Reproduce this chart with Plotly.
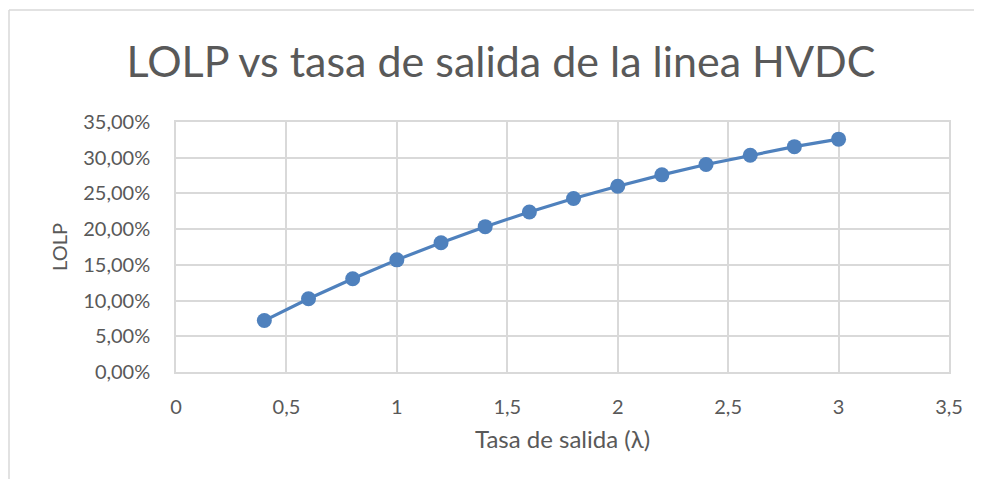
import plotly.graph_objects as go

tasa_salida = [0.4, 0.6, 0.8, 1.0, 1.2, 1.4, 1.6, 1.8, 2.0, 2.2, 2.4, 2.6, 2.8, 3.0]
lolp = [0.0720, 0.1025, 0.1305, 0.1570, 0.1810, 0.2035, 0.2240, 0.2430, 0.2600,
        0.2760, 0.2905, 0.3035, 0.3155, 0.3260]

title_text = "LOLP vs tasa de salida de la linea HVDC"
x_title = "Tasa de salida (λ)"
y_title = "LOLP"

TXT = "#595959"
GRID = "#D9D9D9"
BLUE = "#4F81BD"
FONT = "Lato, 'Open Sans', sans-serif"

fig = go.Figure()
fig.add_trace(go.Scatter(
    x=tasa_salida, y=lolp, mode="lines+markers",
    line=dict(color=BLUE, width=3.2),
    marker=dict(color=BLUE, size=15),
    hoverinfo="x+y",
))

# page body has an 8px margin, so the figure sits at (8, 8) in the window
W, H = 974, 471
L, R, T, B = 168, 33, 114, 107
pw, ph = W - L - R, H - T - B

def px_x(p):
    return (p - L) / pw

def px_y(p):
    return (H - B - p) / ph

fig.update_layout(
    width=W, height=H,
    margin=dict(l=L, r=R, t=T, b=B),
    paper_bgcolor="white", plot_bgcolor="white",
    separators=",.",
    showlegend=False,
    font=dict(family=FONT, color=TXT, size=20),
    title=dict(text=title_text, x=(501 - 8) / W, xref="container", xanchor="center",
               y=1 - 54 / H, yanchor="middle",
               font=dict(size=43, color=TXT, family=FONT)),
    xaxis=dict(range=[0, 3.5], dtick=0.5, tick0=0,
               showgrid=True, gridcolor=GRID, gridwidth=1.5,
               showline=True, mirror=True, linecolor=GRID, linewidth=1.5,
               zeroline=False,
               ticks="outside", ticklen=16, tickcolor="rgba(0,0,0,0)",
               tickfont=dict(size=20, color=TXT),
               title=dict(text=x_title, font=dict(size=24, color=TXT), standoff=14)),
    yaxis=dict(range=[0, 0.35], dtick=0.05, tick0=0, tickformat=".2%",
               showgrid=True, gridcolor=GRID, gridwidth=1.5,
               showline=True, mirror=True, linecolor=GRID, linewidth=1.5,
               zeroline=False,
               ticks="outside", ticklen=20, tickcolor="rgba(0,0,0,0)",
               tickfont=dict(size=20, color=TXT),
               title=dict(text=y_title, font=dict(size=20, color=TXT), standoff=10)),
    shapes=[
        dict(type="line", xref="paper", yref="paper",
             x0=px_x(1), x1=px_x(1), y0=px_y(2), y1=px_y(H),
             line=dict(color=GRID, width=1.5), layer="below"),
        dict(type="line", xref="paper", yref="paper",
             x0=px_x(1), x1=px_x(W), y0=px_y(2), y1=px_y(2),
             line=dict(color=GRID, width=1.5), layer="below"),
    ],
)

fig.write_html("out.html")
